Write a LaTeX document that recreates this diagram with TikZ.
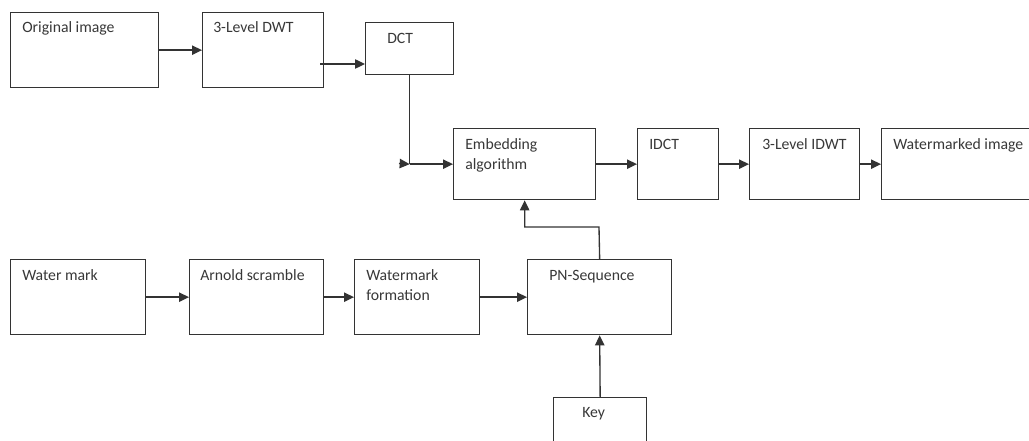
\documentclass[tikz,border=0pt]{standalone}
\usepackage{fontspec}
\setmainfont{Carlito}
\usetikzlibrary{arrows.meta,calc}
\definecolor{ln}{HTML}{333333}
\definecolor{tx}{HTML}{383838}
\begin{document}
\begin{tikzpicture}[x=0.75pt,y=-0.75pt,
  box/.style={draw=ln,line width=1pt,rectangle,inner sep=0pt,anchor=north west},
  lbl/.style={text=tx,inner sep=0pt,anchor=base west,font=\fontsize{11.8}{15}\selectfont},
  arr/.style={draw=ln,line width=1pt,-{Triangle[length=7.5pt,width=7pt]}},
  wire/.style={draw=ln,line width=1pt}]
\clip (0,0) rectangle (1029,441);
\fill[white] (0,0) rectangle (1029,441);
% boxes
\node[box,minimum width={148*0.75pt},minimum height={75*0.75pt}] (orig) at (10,12) {};
\node[box,minimum width={121*0.75pt},minimum height={75*0.75pt}] (dwt) at (202,12) {};
\node[box,minimum width={88*0.75pt},minimum height={52*0.75pt}] (dct) at (365,22) {};
\node[box,minimum width={142*0.75pt},minimum height={71*0.75pt}] (emb) at (453,128) {};
\node[box,minimum width={81*0.75pt},minimum height={71*0.75pt}] (idct) at (637,128) {};
\node[box,minimum width={110*0.75pt},minimum height={71*0.75pt}] (idwt) at (749,128) {};
\node[box,minimum width={170*0.75pt},minimum height={71*0.75pt}] (wmi) at (881,128) {};
\node[box,minimum width={135*0.75pt},minimum height={75*0.75pt}] (water) at (10,259) {};
\node[box,minimum width={134*0.75pt},minimum height={75*0.75pt}] (arnold) at (189,259) {};
\node[box,minimum width={125*0.75pt},minimum height={75*0.75pt}] (form) at (354,259) {};
\node[box,minimum width={144*0.75pt},minimum height={75*0.75pt}] (pn) at (527,259) {};
\node[box,minimum width={93*0.75pt},minimum height={70*0.75pt}] (key) at (553,397) {};
% labels
\node[lbl] (lorig) at (22,33) {Original image};
\node[lbl] (ldwt) at (213,33) {3-Level DWT};
\node[lbl] (ldct) at (387,44) {DCT};
\node[lbl] (lemb1) at (465,150) {Embedding};
\node[lbl] (lemb2) at (465,170) {algorithm};
\node[lbl] (lidct) at (649,150) {IDCT};
\node[lbl] (lidwt) at (762,150) {3-Level IDWT};
\node[lbl] (lwmi) at (893,150) {Watermarked image};
\node[lbl] (lwater) at (22,281) {Water mark};
\node[lbl] (larnold) at (200,281) {Arnold scramble};
\node[lbl] (lform1) at (366,281) {Watermark};
\node[lbl] (lform2) at (366,301) {formation};
\node[lbl] (lpn) at (549,281) {PN-Sequence};
\node[lbl] (lkey) at (582,418) {Key};
% connectors
\draw[arr] (orig.east) -- (dwt.west);
\coordinate (d1) at (320,64);
\draw[arr] (d1) -- (dct.west |- d1);
\coordinate (corner) at (dct.south |- emb.west);
\draw[wire] (dct.south) -- (corner);
\draw[arr] (corner) -- (emb.west);
\coordinate (cornerL) at (399,163.5);
\draw[arr] (cornerL) -- (corner);
\draw[arr] (emb.east) -- (idct.west);
\draw[arr] (idct.east) -- (idwt.west);
\draw[arr] (idwt.east) -- (wmi.west);
\draw[arr] (water.east) -- (arnold.west);
\draw[arr] (arnold.east) -- (form.west);
\draw[arr] (form.east) -- (pn.west);
\draw[arr] (key.north) -- (pn.south);
\coordinate (up) at (599,227);
\draw[arr] (pn.north) -- (up) -- (emb.south |- up) -- (emb.south);
\end{tikzpicture}
\end{document}
